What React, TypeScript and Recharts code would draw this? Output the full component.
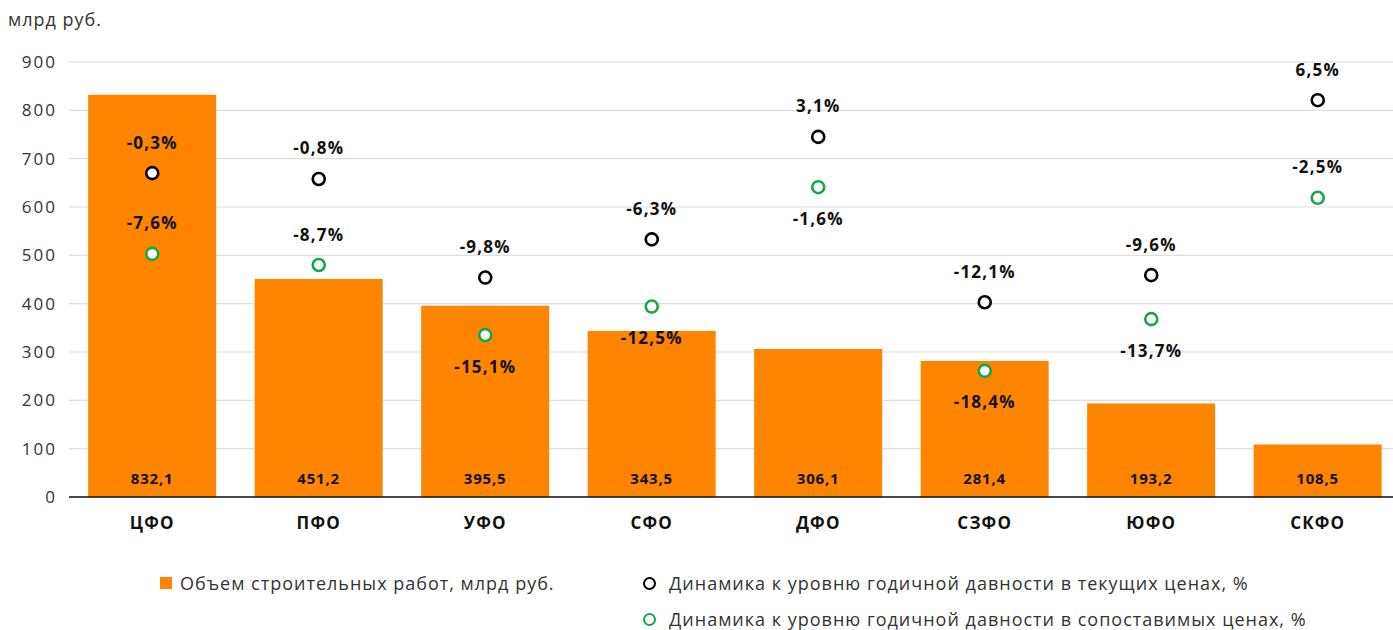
import { ComposedChart, Bar, Scatter, XAxis, YAxis, CartesianGrid, LabelList } from 'recharts';

const districts = ['ЦФО', 'ПФО', 'УФО', 'СФО', 'ДФО', 'СЗФО', 'ЮФО', 'СКФО'];
const volume = [832.1, 451.2, 395.5, 343.5, 306.1, 281.4, 193.2, 108.5];
// marker heights on the chart, and the percent values shown next to them
const currentPos = [670, 658, 454, 533, 745, 403, 459, 821];
const currentPct = [-0.3, -0.8, -9.8, -6.3, 3.1, -12.1, -9.6, 6.5];
const comparablePos = [503, 480, 335, 394, 641, 261, 368, 619];
const comparablePct = [-7.6, -8.7, -15.1, -12.5, -1.6, -18.4, -13.7, -2.5];
const comparableLabelSide = ['top', 'top', 'bottom', 'bottom', 'bottom', 'bottom', 'bottom', 'top'];
const yTicks = [0, 100, 200, 300, 400, 500, 600, 700, 800, 900];

const ORANGE = '#FF8400';
const GREEN = '#14A84A';
const FONT = '"Open Sans", "Noto Sans", sans-serif';

const data = districts.map((name, i) => ({
  name,
  volume: volume[i],
  cur: currentPos[i],
  curPct: currentPct[i],
  cmp: comparablePos[i],
  cmpPct: comparablePct[i],
  cmpSide: comparableLabelSide[i],
}));

const fmt = (v: number) => v.toFixed(1).replace('.', ',');

const makeShape = (color: string, pctKey: string, sideKey?: string) => (props: any) => {
  const { cx, cy, payload } = props;
  const side = sideKey ? payload[sideKey] : 'top';
  const ty = side === 'top' ? cy - 31 : cy + 31;
  return (
    <g>
      <circle cx={cx} cy={cy} r={6} fill="#fff" stroke={color} strokeWidth={2.6} />
      <text
        x={cx}
        y={ty}
        textAnchor="middle"
        dominantBaseline="central"
        fontFamily={FONT}
        fontWeight={700}
        fontSize={17}
        letterSpacing={1.2}
        fill="#111"
      >
        {fmt(payload[pctKey]) + '%'}
      </text>
    </g>
  );
};

const BarValue = (props: any) => {
  const { x, y, width, height, value } = props;
  return (
    <text
      x={x + width / 2}
      y={y + height - 19}
      textAnchor="middle"
      dominantBaseline="central"
      fontFamily={FONT}
      fontWeight={700}
      fontSize={15}
      letterSpacing={0.8}
      fill="#111"
    >
      {fmt(value)}
    </text>
  );
};

const legendText: React.CSSProperties = {
  fontFamily: FONT,
  fontSize: 18,
  lineHeight: '18px',
  letterSpacing: 1,
  color: '#333',
  whiteSpace: 'nowrap',
};

const App = () => {
  return (
    <div style={{ position: 'absolute', left: 0, top: 0, width: 1393, height: 630, background: '#fff', overflow: 'hidden' }}>
      <div style={{ position: 'absolute', left: 8, top: 7, fontFamily: FONT, fontSize: 18, letterSpacing: 1, color: '#333' }}>
        млрд руб.
      </div>
      <ComposedChart
        width={1401}
        height={545}
        data={data}
        margin={{ top: 62, right: 0, left: 0, bottom: 0 }}
        barCategoryGap="11.5%"
        style={{ position: 'absolute', left: 0, top: 0 }}
      >
        <CartesianGrid vertical={false} stroke="#dedede" strokeWidth={1.2} />
        <XAxis
          dataKey="name"
          axisLine={{ stroke: '#111', strokeWidth: 1.5 }}
          tickLine={false}
          height={48}
          tickMargin={14}
          tick={{ fontFamily: FONT, fontSize: 17, fontWeight: 700, fill: '#111', letterSpacing: 1.2 }}
        />
        <YAxis
          domain={[0, 900]}
          ticks={yTicks}
          width={69}
          axisLine={false}
          tickLine={false}
          tickMargin={6}
          tick={{ fontFamily: FONT, fontSize: 17, fill: '#333', letterSpacing: 2 }}
        />
        <Bar dataKey="volume" fill={ORANGE} isAnimationActive={false}>
          <LabelList dataKey="volume" content={BarValue} />
        </Bar>
        <Scatter dataKey="cur" shape={makeShape('#000', 'curPct')} isAnimationActive={false} />
        <Scatter dataKey="cmp" shape={makeShape(GREEN, 'cmpPct', 'cmpSide')} isAnimationActive={false} />
      </ComposedChart>
      <div style={{ position: 'absolute', left: 160, top: 574, display: 'flex', alignItems: 'center' }}>
        <div style={{ width: 12, height: 12, background: ORANGE, marginRight: 8 }} />
        <span style={legendText}>Объем строительных работ, млрд руб.</span>
      </div>
      <div style={{ position: 'absolute', left: 643, top: 574, display: 'flex', alignItems: 'center' }}>
        <div style={{ width: 9, height: 9, borderRadius: '50%', border: '2.6px solid #000', marginRight: 13 }} />
        <span style={legendText}>Динамика к уровню годичной давности в текущих ценах, %</span>
      </div>
      <div style={{ position: 'absolute', left: 643, top: 610, display: 'flex', alignItems: 'center' }}>
        <div style={{ width: 9, height: 9, borderRadius: '50%', border: `2.6px solid ${GREEN}`, marginRight: 13 }} />
        <span style={legendText}>Динамика к уровню годичной давности в сопоставимых ценах, %</span>
      </div>
    </div>
  );
};

export default App;
